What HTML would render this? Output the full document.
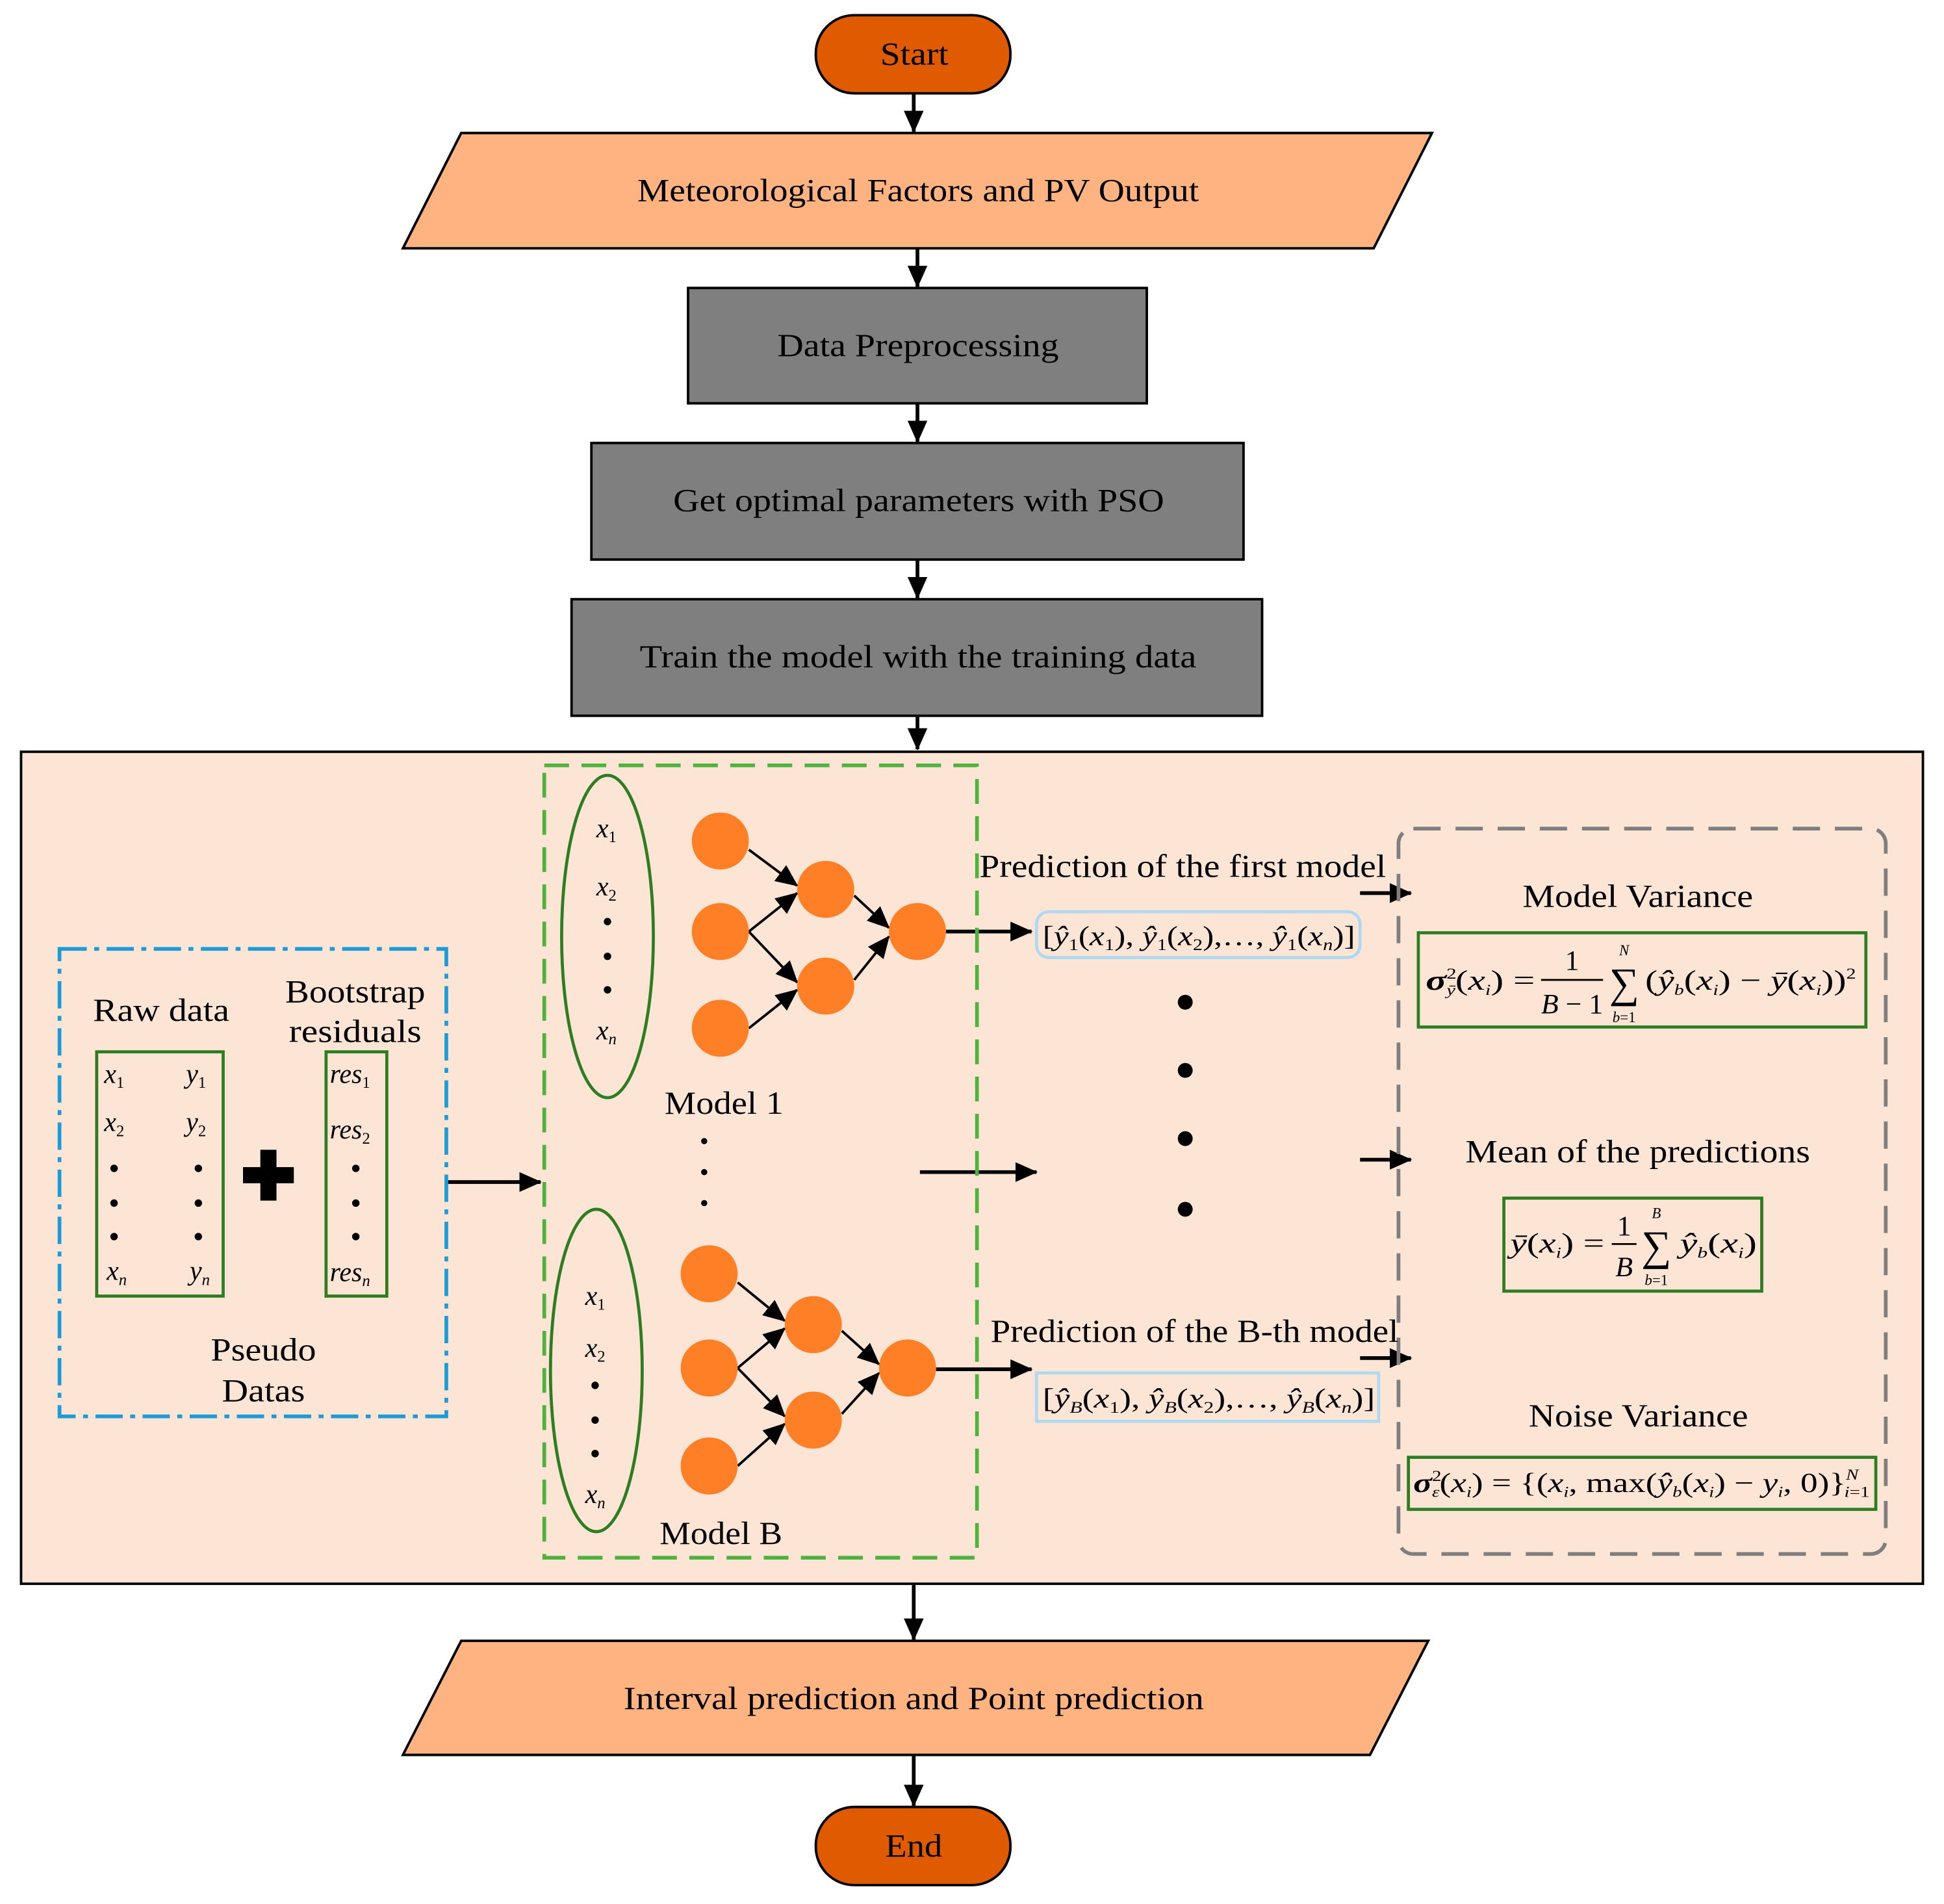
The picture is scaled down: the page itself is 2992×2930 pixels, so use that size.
<!DOCTYPE html>
<html><head><meta charset="utf-8"><style>
html,body{margin:0;padding:0;background:#fff}
svg{display:block}
text{font-family:"Liberation Serif",serif;fill:#000}
.m{font-size:26px}
.i{font-style:italic}
</style></head><body>
<svg width="2992" height="2930" viewBox="0 0 1568 1535" xmlns="http://www.w3.org/2000/svg">
<defs>
<marker id="b" markerWidth="18" markerHeight="16" refX="17" refY="8" orient="auto" markerUnits="userSpaceOnUse"><path d="M0,0 L18,8 L0,16 z" fill="#000"/></marker>
</defs>
<g stroke="#000" stroke-width="2">
<rect x="658" y="12" width="157" height="63" rx="31" fill="#E05A00"/>
<polygon points="372,107 1155,107 1108,200 325,200" fill="#FFB380"/>
<rect x="555" y="232" width="370" height="93" fill="#7F7F7F"/>
<rect x="477" y="357" width="526" height="94" fill="#7F7F7F"/>
<rect x="461" y="483" width="557" height="94" fill="#7F7F7F"/>
<rect x="17" y="606" width="1534" height="671" fill="#FDE5D5"/>
<polygon points="372,1323 1152,1323 1105,1415 325,1415" fill="#FFB380"/>
<rect x="658" y="1457" width="157" height="63" rx="31" fill="#E05A00"/>
</g>
<g stroke="#000" stroke-width="3" fill="none" marker-end="url(#b)">
<line x1="737" y1="76" x2="737" y2="106"/>
<line x1="740" y1="201" x2="740" y2="231"/>
<line x1="740" y1="326" x2="740" y2="356"/>
<line x1="740" y1="452" x2="740" y2="482"/>
<line x1="740" y1="578" x2="740" y2="604"/>
<line x1="737" y1="1278" x2="737" y2="1322"/>
<line x1="737" y1="1416" x2="737" y2="1456"/>
<line x1="360" y1="953" x2="436" y2="953"/>
<line x1="742" y1="945" x2="836" y2="945"/>
<line x1="763" y1="751" x2="832" y2="751"/>
<line x1="755" y1="1104" x2="832" y2="1104"/>
<line x1="1097" y1="720" x2="1138" y2="720"/>
<line x1="1097" y1="935" x2="1138" y2="935"/>
<line x1="1097" y1="1095" x2="1138" y2="1095"/>
</g>
<text class="m" x="710" y="52" textLength="55" lengthAdjust="spacingAndGlyphs">Start</text>
<text class="m" x="514" y="162" textLength="453" lengthAdjust="spacingAndGlyphs">Meteorological Factors and PV Output</text>
<text class="m" x="627" y="287" textLength="227" lengthAdjust="spacingAndGlyphs">Data Preprocessing</text>
<text class="m" x="543" y="412" textLength="396" lengthAdjust="spacingAndGlyphs">Get optimal parameters with PSO</text>
<text class="m" x="516" y="538" textLength="449" lengthAdjust="spacingAndGlyphs">Train the model with the training data</text>
<text class="m" x="503" y="1378" textLength="468" lengthAdjust="spacingAndGlyphs">Interval prediction and Point prediction</text>
<text class="m" x="714" y="1497" textLength="46" lengthAdjust="spacingAndGlyphs">End</text>

<rect x="439" y="617" width="349" height="639" fill="none" stroke="#4DB33D" stroke-width="3" stroke-dasharray="20,10"/>
<rect x="48" y="765" width="312" height="377" fill="none" stroke="#1B9BD7" stroke-width="3" stroke-dasharray="22,6,4,6"/>
<rect x="1128" y="668" width="393" height="585" rx="12" fill="none" stroke="#7F7F7F" stroke-width="3" stroke-dasharray="22,12"/>

<text class="m" x="75" y="823" textLength="110" lengthAdjust="spacingAndGlyphs">Raw data</text>
<text class="m" x="230" y="808" textLength="113" lengthAdjust="spacingAndGlyphs">Bootstrap</text>
<text class="m" x="233" y="840" textLength="107" lengthAdjust="spacingAndGlyphs">residuals</text>
<rect x="78" y="848" width="102" height="197" fill="none" stroke="#2E7D23" stroke-width="2.5"/>
<rect x="263" y="848" width="49" height="197" fill="none" stroke="#2E7D23" stroke-width="2.5"/>
<g font-size="22">
<text x="84" y="873" class="i">x<tspan font-size="13" dy="4" font-style="normal">1</tspan></text>
<text x="150" y="873" class="i">y<tspan font-size="13" dy="4" font-style="normal">1</tspan></text>
<text x="84" y="912" class="i">x<tspan font-size="13" dy="4" font-style="normal">2</tspan></text>
<text x="150" y="912" class="i">y<tspan font-size="13" dy="4" font-style="normal">2</tspan></text>
<text x="86" y="1032" class="i">x<tspan font-size="13" dy="4">n</tspan></text>
<text x="153" y="1032" class="i">y<tspan font-size="13" dy="4">n</tspan></text>
<text x="266" y="873" class="i">res<tspan font-size="13" dy="4" font-style="normal">1</tspan></text>
<text x="266" y="918" class="i">res<tspan font-size="13" dy="4" font-style="normal">2</tspan></text>
<text x="266" y="1033" class="i">res<tspan font-size="13" dy="4">n</tspan></text>
</g>
<g fill="#000">
<circle cx="92" cy="942" r="3"/><circle cx="92" cy="970" r="3"/><circle cx="92" cy="997" r="3"/>
<circle cx="160" cy="942" r="3"/><circle cx="160" cy="970" r="3"/><circle cx="160" cy="997" r="3"/>
<circle cx="287" cy="942" r="3"/><circle cx="287" cy="970" r="3"/><circle cx="287" cy="997" r="3"/>
<rect x="196" y="941" width="41" height="13"/><rect x="210" y="927" width="13" height="41"/>
</g>
<text class="m" x="170" y="1097" textLength="85" lengthAdjust="spacingAndGlyphs">Pseudo</text>
<text class="m" x="179" y="1130" textLength="67" lengthAdjust="spacingAndGlyphs">Datas</text>

<g fill="none" stroke="#2E7D23" stroke-width="2.5">
<ellipse cx="490" cy="755" rx="37" ry="130"/>
<ellipse cx="481" cy="1105" rx="37" ry="130"/>
</g>
<g font-size="22">
<text x="481" y="675" class="i">x<tspan font-size="13" dy="4" font-style="normal">1</tspan></text>
<text x="481" y="722" class="i">x<tspan font-size="13" dy="4" font-style="normal">2</tspan></text>
<text x="481" y="838" class="i">x<tspan font-size="13" dy="4">n</tspan></text>
<text x="472" y="1052" class="i">x<tspan font-size="13" dy="4" font-style="normal">1</tspan></text>
<text x="472" y="1094" class="i">x<tspan font-size="13" dy="4" font-style="normal">2</tspan></text>
<text x="472" y="1212" class="i">x<tspan font-size="13" dy="4">n</tspan></text>
</g>
<g fill="#000">
<circle cx="490" cy="743" r="3"/><circle cx="490" cy="771" r="3"/><circle cx="490" cy="798" r="3"/>
<circle cx="480" cy="1117" r="3"/><circle cx="480" cy="1145" r="3"/><circle cx="480" cy="1172" r="3"/>
<circle cx="568" cy="920" r="2.5"/><circle cx="568" cy="945" r="2.5"/><circle cx="568" cy="970" r="2.5"/>
<circle cx="956" cy="808" r="6"/><circle cx="956" cy="863" r="6"/><circle cx="956" cy="918" r="6"/><circle cx="956" cy="975" r="6"/>
</g>
<g stroke="#000" stroke-width="2" marker-end="url(#b)" fill="none">
<line x1="604" y1="685" x2="643" y2="714"/>
<line x1="604" y1="751" x2="643" y2="720"/>
<line x1="604" y1="751" x2="643" y2="792"/>
<line x1="604" y1="829" x2="643" y2="798"/>
<line x1="689" y1="722" x2="717" y2="748"/>
<line x1="689" y1="790" x2="717" y2="755"/>
<line x1="595" y1="1034" x2="633" y2="1065"/>
<line x1="595" y1="1103" x2="633" y2="1071"/>
<line x1="595" y1="1103" x2="633" y2="1142"/>
<line x1="595" y1="1182" x2="633" y2="1148"/>
<line x1="679" y1="1073" x2="709" y2="1100"/>
<line x1="679" y1="1140" x2="709" y2="1107"/>
</g>
<g fill="#FF7F27">
<circle cx="581" cy="678" r="23"/><circle cx="581" cy="751" r="23"/><circle cx="581" cy="829" r="23"/>
<circle cx="666" cy="717" r="23"/><circle cx="666" cy="795" r="23"/><circle cx="740" cy="751" r="23"/>
<circle cx="572" cy="1027" r="23"/><circle cx="572" cy="1103" r="23"/><circle cx="572" cy="1182" r="23"/>
<circle cx="656" cy="1068" r="23"/><circle cx="656" cy="1145" r="23"/><circle cx="732" cy="1103" r="23"/>
</g>
<text class="m" x="536" y="898" textLength="96" lengthAdjust="spacingAndGlyphs">Model 1</text>
<text class="m" x="532" y="1245" textLength="99" lengthAdjust="spacingAndGlyphs">Model B</text>

<text class="m" x="790" y="707" textLength="328" lengthAdjust="spacingAndGlyphs">Prediction of the first model</text>
<rect x="836" y="735" width="261" height="37" rx="10" fill="none" stroke="#AFD8F2" stroke-width="2.5"/>
<text x="841" y="762" font-size="22" textLength="252" lengthAdjust="spacingAndGlyphs">[<tspan class="i">ŷ</tspan><tspan font-size="13" dy="4">1</tspan><tspan dy="-4">(</tspan><tspan class="i">x</tspan><tspan font-size="13" dy="4">1</tspan><tspan dy="-4">), </tspan><tspan class="i">ŷ</tspan><tspan font-size="13" dy="4">1</tspan><tspan dy="-4">(</tspan><tspan class="i">x</tspan><tspan font-size="13" dy="4">2</tspan><tspan dy="-4">),…, </tspan><tspan class="i">ŷ</tspan><tspan font-size="13" dy="4">1</tspan><tspan dy="-4">(</tspan><tspan class="i">x</tspan><tspan font-size="13" dy="4" class="i">n</tspan><tspan dy="-4">)]</tspan></text>
<text class="m" x="799" y="1082" textLength="329" lengthAdjust="spacingAndGlyphs">Prediction of the B-th model</text>
<rect x="836" y="1107" width="276" height="39" fill="none" stroke="#AFD8F2" stroke-width="2.5"/>
<text x="841" y="1135" font-size="22" textLength="268" lengthAdjust="spacingAndGlyphs">[<tspan class="i">ŷ</tspan><tspan font-size="13" dy="4" class="i">B</tspan><tspan dy="-4">(</tspan><tspan class="i">x</tspan><tspan font-size="13" dy="4">1</tspan><tspan dy="-4">), </tspan><tspan class="i">ŷ</tspan><tspan font-size="13" dy="4" class="i">B</tspan><tspan dy="-4">(</tspan><tspan class="i">x</tspan><tspan font-size="13" dy="4">2</tspan><tspan dy="-4">),…, </tspan><tspan class="i">ŷ</tspan><tspan font-size="13" dy="4" class="i">B</tspan><tspan dy="-4">(</tspan><tspan class="i">x</tspan><tspan font-size="13" dy="4" class="i">n</tspan><tspan dy="-4">)]</tspan></text>

<text class="m" x="1228" y="731" textLength="186" lengthAdjust="spacingAndGlyphs">Model Variance</text>
<rect x="1144" y="752" width="361" height="76" fill="none" stroke="#2E7D23" stroke-width="2.5"/>
<g font-size="23">
<text x="1150" y="798" textLength="88" lengthAdjust="spacingAndGlyphs"><tspan class="i" font-weight="bold">σ</tspan><tspan font-size="12" dy="-9">2</tspan><tspan font-size="12" dx="-6" dy="13" class="i">ȳ</tspan><tspan dy="-4">(</tspan><tspan class="i">x</tspan><tspan font-size="12" dy="4" class="i">i</tspan><tspan dy="-4">) =</tspan></text>
<text x="1268" y="782" text-anchor="middle">1</text>
<line x1="1243" y1="790" x2="1293" y2="790" stroke="#000" stroke-width="1.5"/>
<text x="1268" y="817" text-anchor="middle"><tspan class="i">B</tspan> − 1</text>
<text x="1310" y="804" text-anchor="middle" font-size="34">∑</text>
<text x="1310" y="770" text-anchor="middle" font-size="12" class="i">N</text>
<text x="1310" y="824" text-anchor="middle" font-size="12"><tspan class="i">b</tspan>=1</text>
<text x="1327" y="798" textLength="170" lengthAdjust="spacingAndGlyphs">(<tspan class="i">ŷ</tspan><tspan font-size="12" dy="4" class="i">b</tspan><tspan dy="-4">(</tspan><tspan class="i">x</tspan><tspan font-size="12" dy="4" class="i">i</tspan><tspan dy="-4">) − </tspan><tspan class="i">ȳ</tspan>(<tspan class="i">x</tspan><tspan font-size="12" dy="4" class="i">i</tspan><tspan dy="-4">))</tspan><tspan font-size="12" dy="-9">2</tspan></text>
</g>
<text class="m" x="1182" y="937" textLength="278" lengthAdjust="spacingAndGlyphs">Mean of the predictions</text>
<rect x="1213" y="966" width="208" height="75" fill="none" stroke="#2E7D23" stroke-width="2.5"/>
<g font-size="23">
<text x="1218" y="1010" textLength="76" lengthAdjust="spacingAndGlyphs"><tspan class="i">ȳ</tspan>(<tspan class="i">x</tspan><tspan font-size="12" dy="4" class="i">i</tspan><tspan dy="-4">) =</tspan></text>
<text x="1310" y="996" text-anchor="middle">1</text>
<line x1="1300" y1="1003" x2="1320" y2="1003" stroke="#000" stroke-width="1.5"/>
<text x="1310" y="1029" text-anchor="middle" class="i">B</text>
<text x="1336" y="1016" text-anchor="middle" font-size="34">∑</text>
<text x="1336" y="982" text-anchor="middle" font-size="12" class="i">B</text>
<text x="1336" y="1036" text-anchor="middle" font-size="12"><tspan class="i">b</tspan>=1</text>
<text x="1355" y="1010" textLength="62" lengthAdjust="spacingAndGlyphs"><tspan class="i">ŷ</tspan><tspan font-size="12" dy="4" class="i">b</tspan><tspan dy="-4">(</tspan><tspan class="i">x</tspan><tspan font-size="12" dy="4" class="i">i</tspan><tspan dy="-4">)</tspan></text>
</g>
<text class="m" x="1233" y="1150" textLength="177" lengthAdjust="spacingAndGlyphs">Noise Variance</text>
<rect x="1136" y="1175" width="377" height="42" fill="none" stroke="#2E7D23" stroke-width="2.5"/>
<text x="1140" y="1203" font-size="22" textLength="368" lengthAdjust="spacingAndGlyphs"><tspan class="i" font-weight="bold">σ</tspan><tspan font-size="12" dy="-9">2</tspan><tspan font-size="12" dx="-6" dy="13" class="i">ε</tspan><tspan dy="-4">(</tspan><tspan class="i">x</tspan><tspan font-size="12" dy="4" class="i">i</tspan><tspan dy="-4">) = {(</tspan><tspan class="i">x</tspan><tspan font-size="12" dy="4" class="i">i</tspan><tspan dy="-4">, max(</tspan><tspan class="i">ŷ</tspan><tspan font-size="12" dy="4" class="i">b</tspan><tspan dy="-4">(</tspan><tspan class="i">x</tspan><tspan font-size="12" dy="4" class="i">i</tspan><tspan dy="-4">) − </tspan><tspan class="i">y</tspan><tspan font-size="12" dy="4" class="i">i</tspan><tspan dy="-4">, 0)}</tspan><tspan font-size="12" dy="-10" class="i">N</tspan><tspan font-size="12" dx="-9" dy="14"><tspan class="i">i</tspan>=1</tspan></text>
</svg>
</body></html>
